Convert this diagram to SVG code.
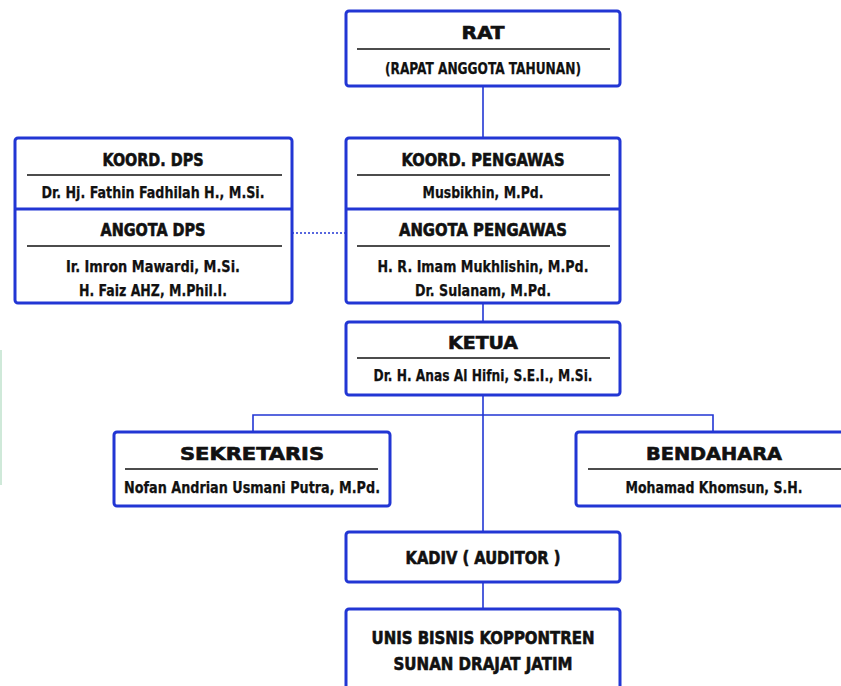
<svg xmlns="http://www.w3.org/2000/svg" width="841" height="686" viewBox="0 0 841 686">
<style>
.box{fill:#fff;stroke:#2236d4;stroke-width:3}
.div{stroke:#2236d4;stroke-width:3}
.ul{stroke:#111;stroke-width:1.6}
.con{stroke:#2236d4;stroke-width:1.6;fill:none}
.t{font-family:"DejaVu Sans Condensed","Liberation Sans Narrow",sans-serif;font-weight:bold;fill:#111;text-anchor:middle;stroke:#111}
.h{font-size:18.5px;stroke-width:0.6}
.n{font-size:16.5px;stroke-width:0.25}
</style>
<rect x="0" y="350" width="2" height="135" fill="#cfe9d9"/>
<g id="connectors">
<line class="con" x1="483" y1="86" x2="483" y2="138"/>
<line class="con" x1="483" y1="303" x2="483" y2="322"/>
<line class="con" x1="483" y1="395" x2="483" y2="532"/>
<polyline class="con" points="253,432 253,415 713,415 713,432"/>
<line class="con" x1="483" y1="582" x2="483" y2="609"/>
<line class="con" x1="292" y1="233" x2="345" y2="233" stroke-dasharray="2,2"/>
</g>
<g id="rat">
<rect class="box" x="346" y="11" width="274" height="75" rx="3"/>
<line class="ul" x1="357" y1="49" x2="610" y2="49"/>
<text class="t h" x="483" y="39" textLength="43" lengthAdjust="spacingAndGlyphs">RAT</text>
<text class="t n" x="483" y="74" textLength="196" lengthAdjust="spacingAndGlyphs">(RAPAT ANGGOTA TAHUNAN)</text>
</g>
<g id="dps">
<rect class="box" x="15" y="138" width="277" height="165" rx="3"/>
<line class="div" x1="15" y1="209" x2="292" y2="209"/>
<line class="ul" x1="27" y1="175" x2="282" y2="175"/>
<line class="ul" x1="27" y1="246" x2="282" y2="246"/>
<text class="t h" x="153" y="166" textLength="101" lengthAdjust="spacingAndGlyphs">KOORD. DPS</text>
<text class="t n" x="153" y="198" textLength="223" lengthAdjust="spacingAndGlyphs">Dr. Hj. Fathin Fadhilah H., M.Si.</text>
<text class="t h" x="153" y="236" textLength="105" lengthAdjust="spacingAndGlyphs">ANGOTA DPS</text>
<text class="t n" x="153" y="272" textLength="174" lengthAdjust="spacingAndGlyphs">Ir. Imron Mawardi, M.Si.</text>
<text class="t n" x="153" y="296" textLength="148" lengthAdjust="spacingAndGlyphs">H. Faiz AHZ, M.Phil.I.</text>
</g>
<g id="pengawas">
<rect class="box" x="346" y="138" width="274" height="165" rx="3"/>
<line class="div" x1="346" y1="209" x2="620" y2="209"/>
<line class="ul" x1="357" y1="175" x2="610" y2="175"/>
<line class="ul" x1="357" y1="246" x2="610" y2="246"/>
<text class="t h" x="483" y="166" textLength="163" lengthAdjust="spacingAndGlyphs">KOORD. PENGAWAS</text>
<text class="t n" x="483" y="198" textLength="121" lengthAdjust="spacingAndGlyphs">Musbikhin, M.Pd.</text>
<text class="t h" x="483" y="236" textLength="168" lengthAdjust="spacingAndGlyphs">ANGOTA PENGAWAS</text>
<text class="t n" x="483" y="272" textLength="211" lengthAdjust="spacingAndGlyphs">H. R. Imam Mukhlishin, M.Pd.</text>
<text class="t n" x="483" y="296" textLength="136" lengthAdjust="spacingAndGlyphs">Dr. Sulanam, M.Pd.</text>
</g>
<g id="ketua">
<rect class="box" x="346" y="322" width="274" height="73" rx="3"/>
<line class="ul" x1="357" y1="358" x2="610" y2="358"/>
<text class="t h" x="483" y="349" textLength="70" lengthAdjust="spacingAndGlyphs">KETUA</text>
<text class="t n" x="483" y="381" textLength="219" lengthAdjust="spacingAndGlyphs">Dr. H. Anas Al Hifni, S.E.I., M.Si.</text>
</g>
<g id="sekretaris">
<rect class="box" x="114" y="432" width="276" height="74" rx="3"/>
<line class="ul" x1="125" y1="469" x2="378" y2="469"/>
<text class="t h" x="252" y="460" textLength="144" lengthAdjust="spacingAndGlyphs">SEKRETARIS</text>
<text class="t n" x="252" y="493" textLength="256" lengthAdjust="spacingAndGlyphs">Nofan Andrian Usmani Putra, M.Pd.</text>
</g>
<g id="bendahara">
<rect class="box" x="576" y="432" width="276" height="74" rx="3"/>
<line class="ul" x1="588" y1="469" x2="841" y2="469"/>
<text class="t h" x="714" y="460" textLength="136" lengthAdjust="spacingAndGlyphs">BENDAHARA</text>
<text class="t n" x="714" y="493" textLength="177" lengthAdjust="spacingAndGlyphs">Mohamad Khomsun, S.H.</text>
</g>
<g id="kadiv">
<rect class="box" x="346" y="532" width="274" height="50" rx="3"/>
<text class="t h" x="483" y="564" textLength="155" lengthAdjust="spacingAndGlyphs">KADIV ( AUDITOR )</text>
</g>
<g id="unis">
<rect class="box" x="346" y="609" width="274" height="90" rx="3"/>
<text class="t h" x="483" y="644" textLength="223" lengthAdjust="spacingAndGlyphs">UNIS BISNIS KOPPONTREN</text>
<text class="t h" x="483" y="670" textLength="179" lengthAdjust="spacingAndGlyphs">SUNAN DRAJAT JATIM</text>
</g>
</svg>
